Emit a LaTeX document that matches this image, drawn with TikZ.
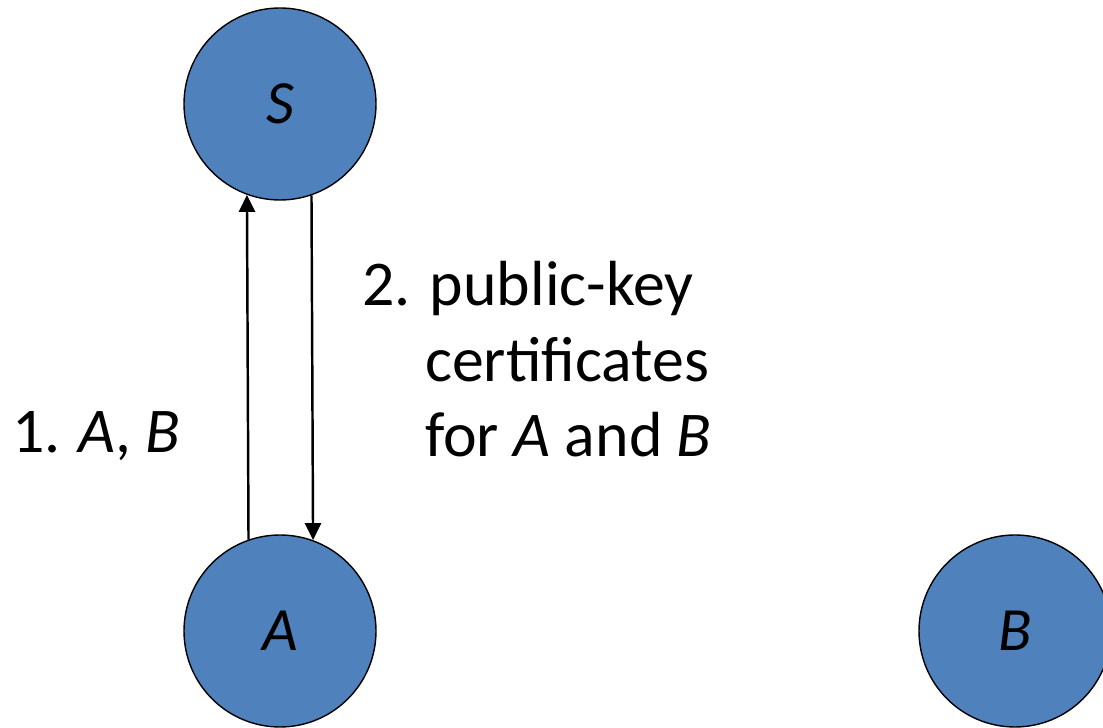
\documentclass[tikz,border=0pt]{standalone}
\usepackage{fontspec}
\setmainfont{Carlito}
\usetikzlibrary{arrows.meta}
\definecolor{partyblue}{HTML}{4F81BD}
\tikzset{
	party/.style={circle, draw=black, line width=0.8pt, fill=partyblue, minimum size=3.84cm, inner sep=0pt, font=\fontsize{35}{43}\selectfont\itshape},
	msg/.style={line width=1.4pt, -{Triangle[length=0.34cm,width=0.32cm]}},
	lbl/.style={font=\fontsize{36.3}{43.2}\selectfont, inner sep=0pt}
}
\begin{document}
\begin{tikzpicture}
		\useasboundingbox (0,0) rectangle (22.06,14.56);
		\node[party] (S) at (5.6,12.48) {S};
		\node[party] (A) at (5.6,1.94) {A};
		\node[party] (B) at (20.3,1.94) {B};
		% request and reply between A and the server
		\draw[msg] (A.109.5)--(S.250.5);
		\draw[msg] (S.289.5)--(A.70.5);
		\node[lbl, anchor=base west] (req) at (0.24,5.5) {1.\hspace{0.28em}\textit{A}, \textit{B}};
		% base anchor sits on the last line
		\node[lbl, anchor=base west, align=left] (rep) at (7.24,5.42) {2. public-key\\\hphantom{2.\ }certificates\\\hphantom{2.\ }for \textit{A} and \textit{B}};
	\end{tikzpicture}
\end{document}
